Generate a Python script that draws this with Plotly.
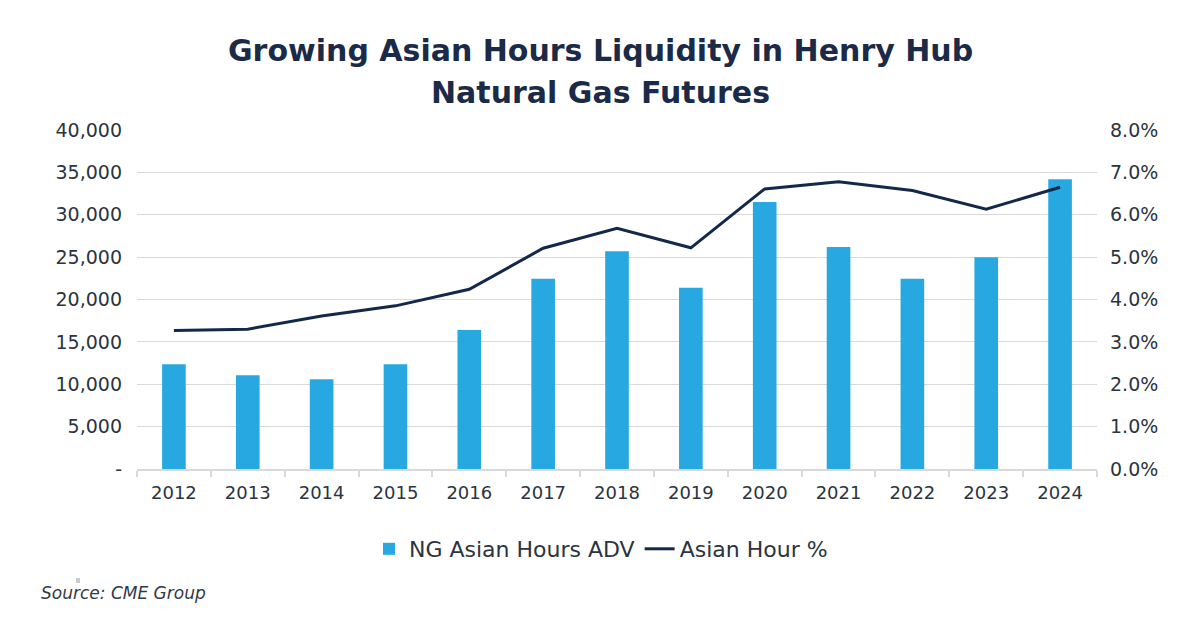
import plotly.graph_objects as go

years = ["2012", "2013", "2014", "2015", "2016", "2017", "2018",
         "2019", "2020", "2021", "2022", "2023", "2024"]
adv = [12350, 11050, 10600, 12350, 16400, 22450, 25700,
       21400, 31500, 26200, 22450, 24980, 34200]
asian_pct = [3.27, 3.30, 3.61, 3.85, 4.24, 5.21, 5.68,
             5.22, 6.61, 6.78, 6.57, 6.13, 6.65]

left_ticks = [0, 5000, 10000, 15000, 20000, 25000, 30000, 35000, 40000]
left_labels = ["-", "5,000", "10,000", "15,000", "20,000", "25,000", "30,000", "35,000", "40,000"]
right_ticks = [0, 1, 2, 3, 4, 5, 6, 7, 8]
right_labels = ["0.0%", "1.0%", "2.0%", "3.0%", "4.0%", "5.0%", "6.0%", "7.0%", "8.0%"]

BLUE = "#27A8E0"
NAVY = "#14294A"
TXT = "#2B3440"
GRID = "#D9D9D9"

W, H = 1200, 627
L, R, T, B = 137, 103, 130, 158
pw = W - L - R
ph = H - T - B


def px_x(x):
    return (x - L) / pw


def px_y(y):
    return (H - B - y) / ph


fig = go.Figure()
fig.add_trace(go.Bar(x=years, y=adv, name="NG Asian Hours ADV",
                     marker=dict(color=BLUE, line=dict(width=0)), yaxis="y"))
fig.add_trace(go.Scatter(x=years, y=asian_pct, name="Asian Hour %", mode="lines",
                         line=dict(color=NAVY, width=3), yaxis="y2"))

tick_font = dict(size=19, color=TXT, family="DejaVu Sans")

fig.update_layout(
    width=W, height=H,
    margin=dict(l=L, r=R, t=T, b=B, autoexpand=False),
    paper_bgcolor="white", plot_bgcolor="white",
    bargap=0.68,
    font=dict(family="DejaVu Sans", color=TXT),
    xaxis=dict(type="category", tickson="boundaries", ticks="outside", ticklen=6,
               tickcolor=GRID, tickwidth=1.5, showline=True, linecolor=GRID, linewidth=2,
               showgrid=False, ticklabelstandoff=6,
               tickfont=dict(size=18, color=TXT, family="DejaVu Sans")),
    yaxis=dict(range=[0, 40000], tickvals=left_ticks, ticktext=left_labels,
               showgrid=True, gridcolor=GRID, gridwidth=1, zeroline=False,
               showline=False, ticks="", ticklabelstandoff=14,
               tickfont=tick_font),
    yaxis2=dict(range=[0, 8], tickvals=right_ticks, ticktext=right_labels,
                overlaying="y", side="right", showgrid=False, zeroline=False,
                showline=False, ticks="", ticklabelstandoff=12,
                tickfont=tick_font),
    legend=dict(orientation="h", x=px_x(601), xanchor="center", y=px_y(549), yanchor="middle",
                font=dict(size=22, color=TXT, family="DejaVu Sans"),
                itemwidth=30, traceorder="normal", bgcolor="rgba(0,0,0,0)"),
    showlegend=True,
)

title_font = dict(family="DejaVu Sans", size=30, color="#1B2A47", weight="bold")
fig.add_annotation(text="<b>Growing Asian Hours Liquidity in Henry Hub</b>",
                   xref="paper", yref="paper", x=px_x(600), y=px_y(51),
                   xanchor="center", yanchor="middle", showarrow=False, font=title_font)
fig.add_annotation(text="<b>Natural Gas Futures</b>",
                   xref="paper", yref="paper", x=px_x(600), y=px_y(93),
                   xanchor="center", yanchor="middle", showarrow=False, font=title_font)
fig.add_annotation(text="<i>Source: CME Group</i>",
                   xref="paper", yref="paper", x=px_x(39), y=px_y(593),
                   xanchor="left", yanchor="middle", showarrow=False,
                   font=dict(size=17, color="#333A45", family="DejaVu Sans"))

fig.add_shape(type="rect", xref="paper", yref="paper",
              x0=px_x(76), x1=px_x(80), y0=px_y(583), y1=px_y(578),
              fillcolor="#C8CCD2", line=dict(width=0))

fig.write_html("out.html", config={"displayModeBar": False},
               post_script="document.body.style.margin='0px';")
